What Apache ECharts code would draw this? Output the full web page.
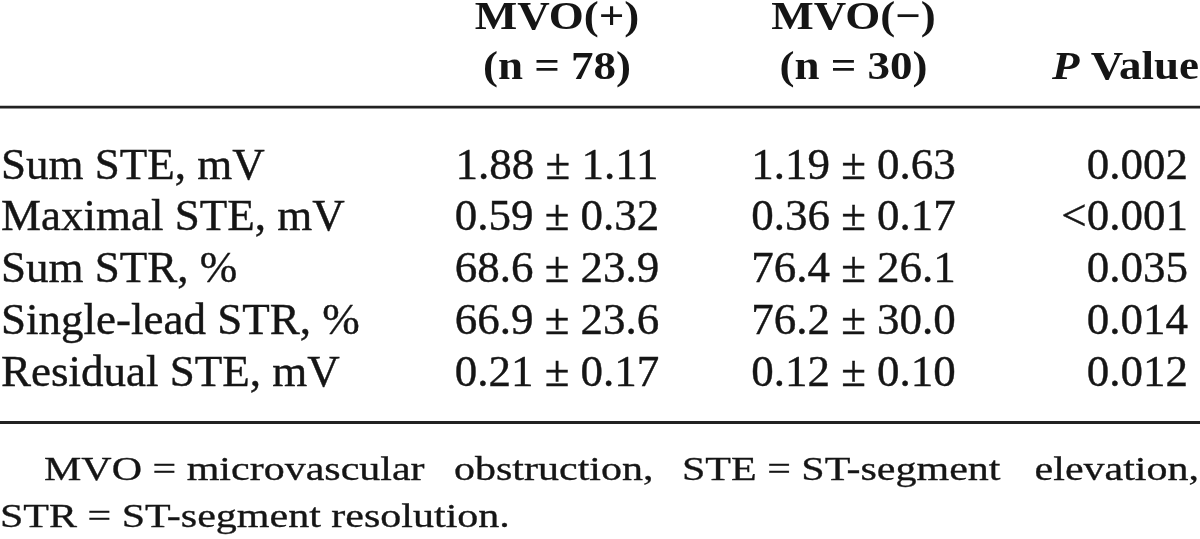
<!DOCTYPE html>
<html><head><meta charset="utf-8">
<script src="https://cdn.jsdelivr.net/npm/echarts@6/dist/echarts.min.js"></script>
<style>html,body{margin:0;padding:0;background:#fff}#c{width:1200px;height:539px}</style>
</head><body><div id="c"></div>
<script>
// ---- data ----
const rowLabels = ['Sum STE, mV', 'Maximal STE, mV', 'Sum STR, %', 'Single-lead STR, %', 'Residual STE, mV'];
const mvoPosMean = [1.88, 0.59, 68.6, 66.9, 0.21];
const mvoPosSD   = [1.11, 0.32, 23.9, 23.6, 0.17];
const mvoNegMean = [1.19, 0.36, 76.4, 76.2, 0.12];
const mvoNegSD   = [0.63, 0.17, 26.1, 30.0, 0.10];
const decimals   = [2, 2, 1, 1, 2];
const pValues    = ['0.002', '<0.001', '0.035', '0.014', '0.012'];
const headerLine1 = ['', 'MVO(+)', 'MVO(\u2212)', ''];
const headerLine2 = ['', '(n = 78)', '(n = 30)', '{i|P} Value'];
const footnote1 = ['MVO = microvascular', 'obstruction,', 'STE = ST-segment', 'elevation,'];
const footnote2 = 'STR = ST-segment resolution.';

// ---- layout ----
const FONT = "'Liberation Serif','Times New Roman',serif";
const INK = '#151515';
const COL_X = [1, 557, 853.5, 1188];
const COL_ALIGN = ['left', 'center', 'center', 'right'];
const HEAD_X = [0, 557, 853.5, 1199];

function cellText(c, r) {
  const d = decimals[r];
  if (c === 0) return rowLabels[r];
  if (c === 1) return mvoPosMean[r].toFixed(d) + ' \u00b1 ' + mvoPosSD[r].toFixed(d);
  if (c === 2) return mvoNegMean[r].toFixed(d) + ' \u00b1 ' + mvoNegSD[r].toFixed(d);
  return pValues[r];
}

const cells = [];
rowLabels.forEach((_, r) => { for (let c = 0; c < 4; c++) cells.push([c, r]); });

const graphics = [
  { type: 'rect', shape: { x: 0, y: 105.7, width: 1200, height: 2.8 }, style: { fill: '#222' } },
  { type: 'rect', shape: { x: 0, y: 421, width: 1200, height: 3 }, style: { fill: '#222' } }
];
const headStyle = (text, align) => ({
  text, align, verticalAlign: 'middle', fill: INK,
  fontFamily: FONT, fontSize: 45, fontWeight: 'bold',
  rich: { i: { fontFamily: FONT, fontSize: 45, fontWeight: 'bold', fontStyle: 'italic', fill: INK } }
});
for (let c = 1; c < 4; c++) {
  const align = c === 3 ? 'right' : 'center';
  if (headerLine1[c]) graphics.push({ type: 'text', x: HEAD_X[c], y: 18.5, scaleY: 0.89, style: headStyle(headerLine1[c], align) });
  if (headerLine2[c]) graphics.push({ type: 'text', x: HEAD_X[c], y: 68.5, scaleY: 0.89, style: headStyle(headerLine2[c], align) });
}
const footX = [44, 454, 682, 1199];
const footAlign = ['left', 'left', 'left', 'right'];
const footStyle = (text, align) => ({
  text, align, verticalAlign: 'middle', fill: INK, fontFamily: FONT, fontSize: 42,
  stroke: INK, lineWidth: 0.4
});
footnote1.forEach((t, i) => graphics.push({ type: 'text', x: footX[i], y: 470.8, scaleY: 0.8, style: footStyle(t, footAlign[i]) }));
graphics.push({ type: 'text', x: 0, y: 517.8, scaleY: 0.8, style: footStyle(footnote2, 'left') });

const chart = echarts.init(document.getElementById('c'), null, { renderer: 'canvas' });
chart.setOption({
  backgroundColor: '#fff',
  animation: false,
  grid: { left: 0, right: 0, top: 141, bottom: 139.25 },
  xAxis: { type: 'value', min: 0, max: 1200, show: false },
  yAxis: { type: 'category', data: rowLabels, inverse: true, show: false },
  graphic: graphics,
  series: [{
    type: 'custom',
    data: cells,
    encode: { x: 0, y: 1 },
    renderItem: function (params, api) {
      const c = api.value(0), r = api.value(1);
      const pt = api.coord([COL_X[c], r]);
      return {
        type: 'text', x: pt[0], y: pt[1],
        style: {
          text: cellText(c, r), align: COL_ALIGN[c], verticalAlign: 'middle',
          fill: INK, fontFamily: FONT, fontSize: 45,
          stroke: INK, lineWidth: 0.4
        }
      };
    }
  }]
});
</script>
</body></html>
